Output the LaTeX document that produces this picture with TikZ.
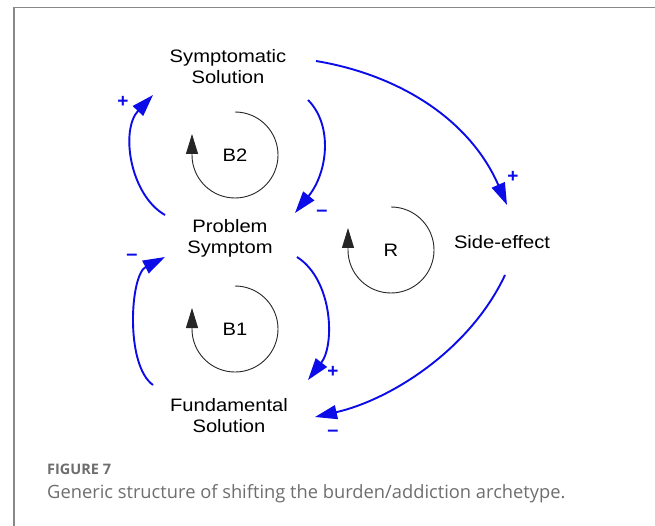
\documentclass[tikz,border=0pt]{standalone}
\usepackage{fontspec}
\setmainfont{Liberation Sans}
\newfontfamily\diagfont[FakeStretch=1.12]{Liberation Sans}
\newfontfamily\capfont{Open Sans}
\usetikzlibrary{arrows.meta,calc}
\definecolor{linkblue}{RGB}{12,12,232}
\definecolor{framegray}{RGB}{136,136,136}
\definecolor{capgray}{RGB}{110,110,110}
\tikzset{
  varname/.style={font=\diagfont\fontsize{18}{21}\selectfont, align=center, inner sep=0pt},
  looplabel/.style={font=\diagfont\fontsize{18}{21}\selectfont, inner sep=0pt},
  link/.style={draw=linkblue, line width=1.9pt, -{Triangle[length=22pt,width=14pt]}},
  plus/.style={text=linkblue, font=\bfseries\fontsize{19}{19}\selectfont, inner sep=0pt},
  minus/.style={text=linkblue, font=\bfseries\fontsize{20}{20}\selectfont, inner sep=0pt},
  loopcircle/.style={draw=black!85, line width=0.9pt, -{Triangle[length=20pt,width=12pt]}},
}
\begin{document}
\begin{tikzpicture}[x=1pt,y=-1pt]
\useasboundingbox (0,0) rectangle (655,526);
\fill[white] (0,0) rectangle (655,526);
% frame
\draw[framegray, line width=1.5pt] (14,526) -- (14,7.5) -- (655,7.5);

% variables
\node[varname] (sym)  at (228,67)  {Symptomatic\\Solution};
\node[varname] (prob) at (230,238) {Problem\\Symptom};
\node[varname] (fund) at (229,416) {Fundamental\\Solution};
\node[varname] (side) at (502,242) {Side-effect};

% loop identifiers
\node[looplabel] (b2) at (235,155) {B2};
\node[looplabel] (b1) at (235,329) {B1};
\node[looplabel] (r)  at (391,250) {R};
\draw[loopcircle] ($(b2)+(0,-43)$) arc[start angle=-90,end angle=180,radius=43] -- ++(0,-21);
\draw[loopcircle] ($(b1)+(0,-43)$) arc[start angle=-90,end angle=180,radius=43] -- ++(0,-21);
\draw[loopcircle] ($(r)+(0,-43)$)  arc[start angle=-90,end angle=180,radius=43] -- ++(0,-22);

% causal links
\draw[link] ($(sym)+(88,-6)$) .. controls ($(sym)+(172,8)$) and ($(sym)+(242,53)$) .. ($(side)+(5,-37)$);
\draw[link] ($(sym)+(80,33)$) .. controls ($(sym)+(105,58)$) and ($(sym)+(100,105)$) .. ($(prob)+(65,-25)$);
\draw[link] ($(prob)+(-65,-23)$) .. controls ($(prob)+(-100,-43)$) and ($(prob)+(-110,-108)$) .. ($(sym)+(-75,28)$);
\draw[link] ($(prob)+(67,19)$) .. controls ($(prob)+(103,42)$) and ($(prob)+(105,107)$) .. ($(fund)+(79,-36)$);
\draw[link] ($(fund)+(-76,-31)$) .. controls ($(fund)+(-104,-51)$) and ($(fund)+(-99,-141)$) .. ($(prob)+(-65,19)$);
\draw[link] ($(side)+(3,33)$) .. controls ($(side)+(-32,108)$) and ($(side)+(-112,158)$) .. ($(fund)+(86,1)$);

% polarities
\node[plus]  (p1) at (513,177) {+};
\node[minus] (p2) at (322,213) {--};
\node[plus]  (p3) at (123,102) {+};
\node[plus]  (p4) at (333,372) {+};
\node[minus] (p5) at (132,257) {--};
\node[minus] (p6) at (333,433) {--};

% caption
\node[anchor=base west, inner sep=0pt, text=capgray, font=\capfont\bfseries\fontsize{14.5}{14.5}\selectfont] (fig) at (47,474) {FIGURE 7};
\node[anchor=base west, inner sep=0pt, text=capgray, font=\capfont\fontsize{18.3}{18.3}\selectfont] (cap) at (47,498) {Generic structure of shifting the burden/addiction archetype.};
\end{tikzpicture}
\end{document}
